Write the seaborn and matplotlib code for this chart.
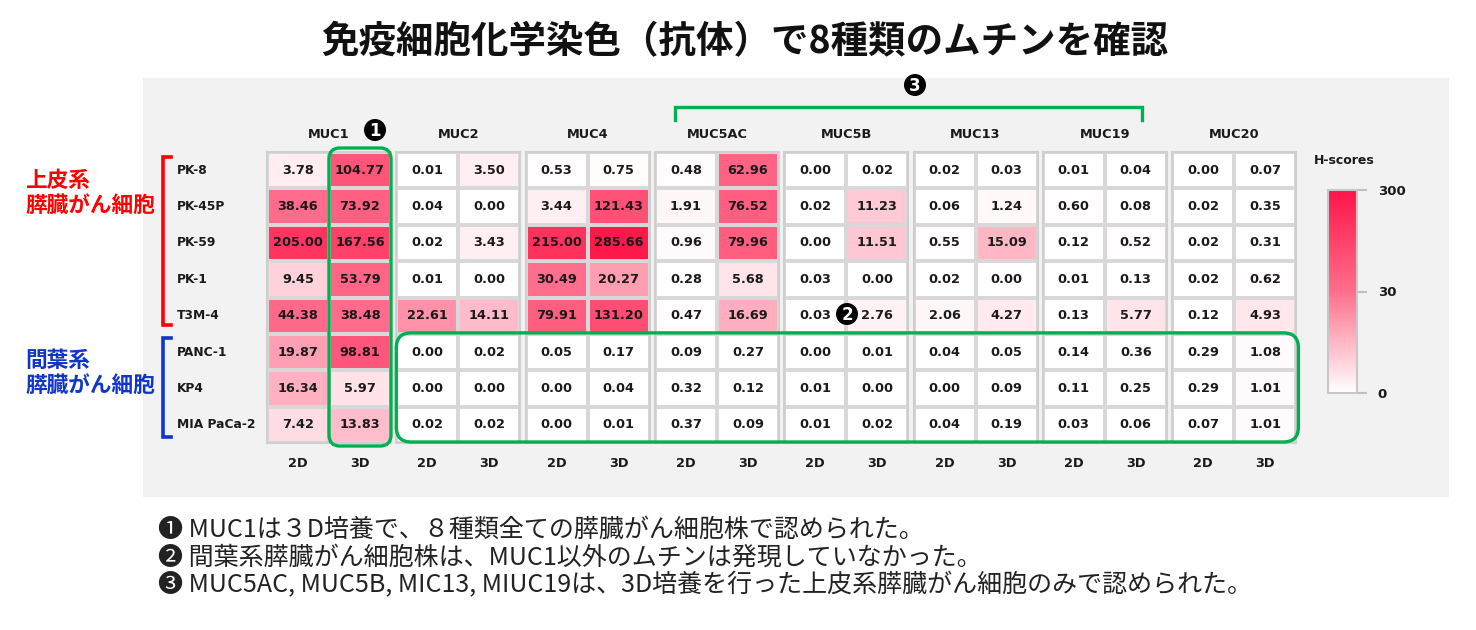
import numpy as np
import pandas as pd
import seaborn as sns
import matplotlib.pyplot as plt
from matplotlib.colors import LinearSegmentedColormap, TwoSlopeNorm
from matplotlib.patches import FancyBboxPatch, Rectangle, Circle

plt.rcParams['font.family'] = ['DejaVu Sans', 'Noto Sans CJK JP']
JP = ['Noto Sans CJK JP', 'DejaVu Sans']

# data (H-scores)
cell_lines = ["PK-8", "PK-45P", "PK-59", "PK-1", "T3M-4", "PANC-1", "KP4", "MIA PaCa-2"]
mucins = ["MUC1", "MUC2", "MUC4", "MUC5AC", "MUC5B", "MUC13", "MUC19", "MUC20"]
cultures = ["2D", "3D"]

muc1_2d = [3.78, 38.46, 205.00, 9.45, 44.38, 19.87, 16.34, 7.42]
muc1_3d = [104.77, 73.92, 167.56, 53.79, 38.48, 98.81, 5.97, 13.83]
muc2_2d = [0.01, 0.04, 0.02, 0.01, 22.61, 0.00, 0.00, 0.02]
muc2_3d = [3.50, 0.00, 3.43, 0.00, 14.11, 0.02, 0.00, 0.02]
muc4_2d = [0.53, 3.44, 215.00, 30.49, 79.91, 0.05, 0.00, 0.00]
muc4_3d = [0.75, 121.43, 285.66, 20.27, 131.20, 0.17, 0.04, 0.01]
muc5ac_2d = [0.48, 1.91, 0.96, 0.28, 0.47, 0.09, 0.32, 0.37]
muc5ac_3d = [62.96, 76.52, 79.96, 5.68, 16.69, 0.27, 0.12, 0.09]
muc5b_2d = [0.00, 0.02, 0.00, 0.03, 0.03, 0.00, 0.01, 0.01]
muc5b_3d = [0.02, 11.23, 11.51, 0.00, 2.76, 0.01, 0.00, 0.02]
muc13_2d = [0.02, 0.06, 0.55, 0.02, 2.06, 0.04, 0.00, 0.04]
muc13_3d = [0.03, 1.24, 15.09, 0.00, 4.27, 0.05, 0.09, 0.19]
muc19_2d = [0.01, 0.60, 0.12, 0.01, 0.13, 0.14, 0.11, 0.03]
muc19_3d = [0.04, 0.08, 0.52, 0.13, 5.77, 0.36, 0.25, 0.06]
muc20_2d = [0.00, 0.02, 0.02, 0.02, 0.12, 0.29, 0.29, 0.07]
muc20_3d = [0.07, 0.35, 0.31, 0.62, 4.93, 1.08, 1.01, 1.01]

groups = [(muc1_2d, muc1_3d), (muc2_2d, muc2_3d), (muc4_2d, muc4_3d),
          (muc5ac_2d, muc5ac_3d), (muc5b_2d, muc5b_3d), (muc13_2d, muc13_3d),
          (muc19_2d, muc19_3d), (muc20_2d, muc20_3d)]

title = "免疫細胞化学染色（抗体）で8種類のムチンを確認"
notes = ["❶ MUC1は３D培養で、８種類全ての膵臓がん細胞株で認められた。",
         "❷ 間葉系膵臓がん細胞株は、MUC1以外のムチンは発現していなかった。",
         "❸ MUC5AC, MUC5B, MIC13, MIUC19は、3D培養を行った上皮系膵臓がん細胞のみで認められた。"]

W, H = 1476, 630
fig = plt.figure(figsize=(W / 100, H / 100), dpi=100)


def rect(x0, y0, x1, y1):
    return [x0 / W, 1 - y1 / H, (x1 - x0) / W, (y1 - y0) / H]


# grey panel behind the heatmap
fig.patches.append(Rectangle((143 / W, 1 - 497 / H), (1449 - 143) / W, (497 - 78) / H,
                             transform=fig.transFigure, facecolor='#F2F2F2',
                             edgecolor='none', zorder=-5))

cmap = LinearSegmentedColormap.from_list("hs", ["#FFFFFF", "#FF6E8C", "#FF1548"])
norm = TwoSlopeNorm(vmin=0, vcenter=30, vmax=300)

left0, pitch, gw = 267, 129.3, 124
top, bottom = 152, 443
axes = []
for i, (m, (d2, d3)) in enumerate(zip(mucins, groups)):
    x0 = left0 + i * pitch
    ax = fig.add_axes(rect(x0, top, x0 + gw, bottom))
    df = pd.DataFrame({"2D": d2, "3D": d3}, index=cell_lines)
    sns.heatmap(df, ax=ax, cmap=cmap, norm=norm, annot=True, fmt=".2f", cbar=False,
                linewidths=1.5, linecolor='#D8D8D8',
                annot_kws={'fontsize': 9.3, 'fontweight': 'bold', 'color': '#1A1A1A'})
    for s in ax.spines.values():
        s.set_visible(True)
        s.set_color('#CFCFCF')
        s.set_linewidth(1.5)
    ax.set_title(m, fontsize=9.3, fontweight='bold', pad=10, color='#1A1A1A')
    ax.set_xlabel('')
    ax.set_ylabel('')
    ax.set_xticklabels(cultures, rotation=0, fontsize=9.3, fontweight='bold', color='#1A1A1A')
    ax.tick_params(axis='x', length=0, pad=10)
    if i == 0:
        ax.set_yticklabels(cell_lines, rotation=0, ha='left', fontsize=8.8,
                           fontweight='bold', color='#1A1A1A')
        ax.tick_params(axis='y', length=0, pad=65)
    else:
        ax.set_yticks([])
    axes.append(ax)

# colour bar
cax = fig.add_axes(rect(1328, 190, 1357, 393))
cb = fig.colorbar(axes[0].collections[0], cax=cax, ticks=[0, 30, 300])
cb.outline.set_edgecolor('#C8C8C8')
cb.outline.set_linewidth(1.5)
cax.tick_params(length=7, width=1.5, color='#C0C0C0', labelsize=9.5, pad=8)
for lbl in cax.get_yticklabels():
    lbl.set_fontweight('bold')
    lbl.set_color('#1A1A1A')
fig.text(1344 / W, 1 - 160 / H, "H-scores", ha='center', va='center',
         fontsize=9, fontweight='bold', color='#1A1A1A')

# title
fig.text(745 / W, 1 - 42 / H, title, ha='center', va='center', fontsize=27,
         fontweight='bold', family=JP, color='#111111')

# group labels on the left
fig.text(25 / W, 1 - 193 / H, "上皮系\n膵臓がん細胞", ha='left', va='center', fontsize=15.6,
         fontweight='bold', family=JP, color='#FF0000', linespacing=1.15)
fig.text(25 / W, 1 - 373 / H, "間葉系\n膵臓がん細胞", ha='left', va='center', fontsize=15.6,
         fontweight='bold', family=JP, color='#1036C8', linespacing=1.15)

# notes
for k, line in enumerate(notes):
    fig.text(158 / W, 1 - (530 + k * 27.5) / H, line, ha='left', va='center',
             fontsize=18, family=JP, color='#222222')

# overlay for brackets, boxes and markers (pixel coordinates)
ov = fig.add_axes([0, 0, 1, 1], zorder=10)
ov.set_xlim(0, W)
ov.set_ylim(H, 0)
ov.axis('off')
ov.patch.set_alpha(0)

green = '#00B050'
cw = gw / 2
row_h = (bottom - top) / len(cell_lines)
ov.add_patch(FancyBboxPatch((left0 + cw, top - 4), cw, bottom - top + 7,
                            boxstyle="round,pad=0,rounding_size=11",
                            fill=False, edgecolor=green, linewidth=2.4))
ov.add_patch(FancyBboxPatch((left0 + pitch, top + 5 * row_h - 1),
                            7 * pitch - 3, 3 * row_h + 0,
                            boxstyle="round,pad=0,rounding_size=15",
                            fill=False, edgecolor=green, linewidth=2.4))
ov.plot([675, 675, 1142, 1142], [120, 107, 107, 120], color=green, lw=2.4,
        solid_joinstyle='miter')
ov.plot([171, 163, 163, 171], [157, 157, 325, 325], color='#FF0000', lw=2.6,
        solid_joinstyle='miter')
ov.plot([171, 163, 163, 171], [338, 338, 437, 437], color='#1036C8', lw=2.6,
        solid_joinstyle='miter')

for num, (cx, cy) in zip(["1", "2", "3"], [(375, 130), (847, 314), (915, 85)]):
    ov.add_patch(Circle((cx, cy), 11, facecolor='black', edgecolor='none'))
    ov.text(cx, cy + 1, num, ha='center', va='center', color='white',
            fontsize=12, fontweight='bold')

fig.savefig("out.png", dpi=100, facecolor='white')
